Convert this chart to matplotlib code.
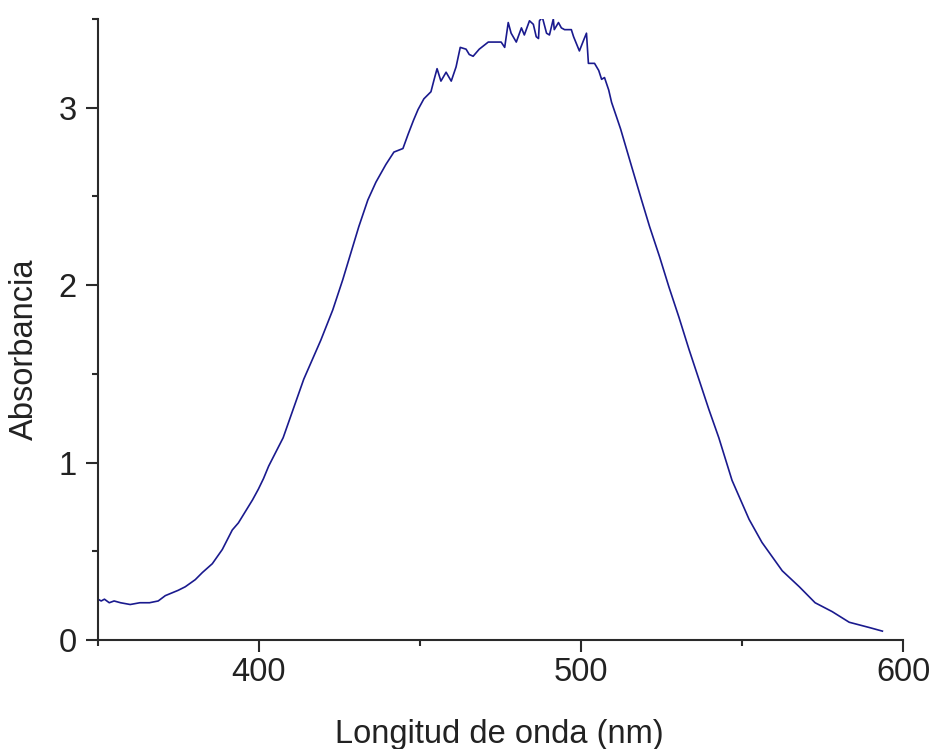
import matplotlib.pyplot as plt
from matplotlib.ticker import MultipleLocator

# wavelength (nm) and absorbance
WAVELENGTH = [
    350, 351, 352, 353.5, 355, 357, 360, 363, 366, 368.7,
    370.9, 374.9, 377.1, 380.2, 382.4, 385.5, 388.6, 391.7, 393.6, 398,
    399.8, 401.4, 403, 407.5, 413.9,
    419.2, 422.9, 426, 428.5, 431, 433.8, 436.3, 439.4, 441.9, 444.7,
    446.3, 448, 449.4, 451.2, 453.4, 454.4, 455.3, 456.5, 458.1, 459.7,
    461.2, 462.5, 464.3, 465.3, 466.5, 468.4, 471.2, 473, 475.2, 476.3,
    477.4, 478.3, 479.9, 481.5, 482.4, 484, 485.2, 486.1, 486.8, 487.1,
    488, 489.3, 490.2, 491.4, 491.7, 493, 493.9, 494.9, 497, 497.7,
    498.6, 499.5, 500.8, 501.7, 502.3, 504.2, 505.5, 506.4, 507.3, 508.6,
    509.5, 511, 512.3, 515.7, 518.8, 521.3, 524.4, 527.3, 530.4, 533.5,
    536.6, 539.7, 542.8, 546.9, 552.2, 556.2, 562.5, 567.8, 572.7, 578,
    583.3, 589.6, 593.6,
]
ABSORBANCE = [
    0.23, 0.22, 0.23, 0.21, 0.22, 0.21, 0.20, 0.21, 0.21, 0.22,
    0.25, 0.28, 0.30, 0.34, 0.38, 0.43, 0.51, 0.62, 0.66, 0.79,
    0.85, 0.91, 0.98, 1.14, 1.47,
    1.69, 1.86, 2.03, 2.18, 2.33, 2.48, 2.58, 2.68, 2.75, 2.77,
    2.85, 2.93, 2.99, 3.05, 3.09, 3.16, 3.22, 3.15, 3.20, 3.15,
    3.23, 3.34, 3.33, 3.30, 3.29, 3.33, 3.37, 3.37, 3.37, 3.34,
    3.48, 3.42, 3.37, 3.45, 3.41, 3.49, 3.47, 3.40, 3.39, 3.49,
    3.51, 3.42, 3.41, 3.50, 3.44, 3.48, 3.45, 3.44, 3.44, 3.40,
    3.36, 3.32, 3.38, 3.42, 3.25, 3.25, 3.21, 3.16, 3.17, 3.10,
    3.03, 2.95, 2.88, 2.67, 2.48, 2.33, 2.16, 1.99, 1.82, 1.64,
    1.47, 1.30, 1.14, 0.90, 0.68, 0.55, 0.39, 0.30, 0.21, 0.16,
    0.10, 0.07, 0.05,
]
X_TICKS = [400, 500, 600]
Y_TICKS = [0, 1, 2, 3]

plt.rcParams["font.family"] = ["Liberation Sans", "DejaVu Sans"]
AXIS_COLOR = "#2a2a2a"
TEXT_COLOR = "#222222"

fig = plt.figure(figsize=(9.32, 7.49), dpi=100)
ax = fig.add_axes([98 / 932, 1 - 640 / 749, 805 / 932, 621 / 749])

ax.plot(WAVELENGTH, ABSORBANCE, color="#1a1a8e", linewidth=1.2)

ax.set_xlim(350, 600)
ax.set_ylim(0, 3.5)
ax.set_xticks(X_TICKS)
ax.set_yticks(Y_TICKS)
ax.xaxis.set_minor_locator(MultipleLocator(50))
ax.yaxis.set_minor_locator(MultipleLocator(0.5))

for side in ("top", "right"):
    ax.spines[side].set_visible(False)
for side in ("left", "bottom"):
    ax.spines[side].set_linewidth(1.5)
    ax.spines[side].set_color(AXIS_COLOR)

ax.tick_params(which="major", direction="out", length=8.5, width=1.5,
               color=AXIS_COLOR, labelsize=23.5, labelcolor=TEXT_COLOR)
ax.tick_params(which="minor", direction="out", length=4.5, width=1.5,
               color=AXIS_COLOR)
ax.tick_params(axis="x", which="major", pad=4)
ax.tick_params(axis="y", which="major", pad=7)

fig.text(499 / 932, 1 - 743 / 749, "Longitud de onda (nm)", ha="center",
         va="baseline", fontsize=23.5, color=TEXT_COLOR)
fig.text(24 / 932, 1 - 349 / 749, "Absorbancia", ha="center", va="center",
         rotation=90, fontsize=23.5, color=TEXT_COLOR)

fig.savefig("out.png", dpi=100)
